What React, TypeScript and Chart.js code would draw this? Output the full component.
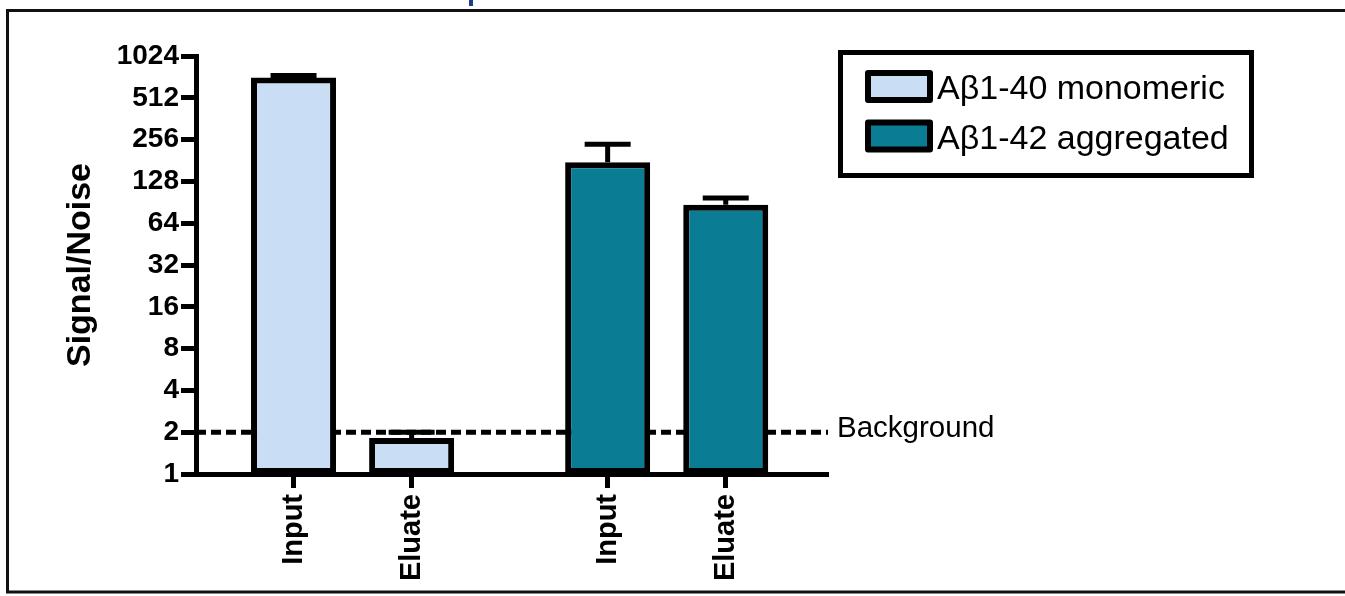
import React, { useEffect, useRef } from 'react';
import { Chart, registerables } from 'chart.js';

Chart.register(...registerables);

// ---- data ----
const conditions = ['Input', 'Eluate'];
const seriesNames = ['Aβ1-40 monomeric', 'Aβ1-42 aggregated'];
const monomericMeans = [716, 1.82];
const monomericErrors = [24, 0.18];
const aggregatedMeans = [176, 87];
const aggregatedErrors = [61, 10];
const yTickValues = [1, 2, 4, 8, 16, 32, 64, 128, 256, 512, 1024];
const backgroundLevel = 2;
const backgroundLabel = 'Background';
const yAxisTitle = 'Signal/Noise';
const seriesColors = ['#c9ddf5', '#0a7c94'];

// ---- layout constants ----
const W = 1345;
const H = 596;
const GROUP_GAP = 2.66; // distance between group starts, in bar slots
const FONT = "'Liberation Sans', Arial, Helvetica, sans-serif";

const means = [monomericMeans, aggregatedMeans];
const errors = [monomericErrors, aggregatedErrors];
const xPositions: number[] = [];
const xLabels: string[] = [];
means.forEach((_, g) => conditions.forEach((c, i) => { xPositions.push(g * GROUP_GAP + i); xLabels.push(c); }));

const errorBarPlugin = {
  id: 'errorBars',
  afterDatasetsDraw(chart: any) {
    const ctx = chart.ctx;
    const y = chart.scales.y;
    ctx.save();
    ctx.strokeStyle = '#000';
    ctx.lineWidth = 5;
    chart.data.datasets.forEach((ds: any, di: number) => {
      const meta = chart.getDatasetMeta(di);
      meta.data.forEach((el: any, i: number) => {
        const v = ds.data[i].y;
        const e = ds.errors[i];
        const top = y.getPixelForValue(v + e);
        ctx.beginPath();
        ctx.moveTo(el.x, el.y);
        ctx.lineTo(el.x, top);
        ctx.moveTo(el.x - 23, top);
        ctx.lineTo(el.x + 23, top);
        ctx.stroke();
      });
    });
    ctx.restore();
  },
};

const backgroundLinePlugin = {
  id: 'backgroundLine',
  beforeDatasetsDraw(chart: any) {
    const ctx = chart.ctx;
    const { left, right } = chart.chartArea;
    const yp = chart.scales.y.getPixelForValue(backgroundLevel);
    ctx.save();
    ctx.strokeStyle = '#000';
    ctx.lineWidth = 5;
    ctx.setLineDash([10, 5]);
    ctx.beginPath();
    ctx.moveTo(left, yp);
    ctx.lineTo(right, yp);
    ctx.stroke();
    ctx.restore();
  },
  afterDraw(chart: any) {
    const ctx = chart.ctx;
    const { right } = chart.chartArea;
    const yp = chart.scales.y.getPixelForValue(backgroundLevel);
    ctx.save();
    ctx.fillStyle = '#000';
    ctx.font = `29.5px ${FONT}`;
    ctx.textAlign = 'left';
    ctx.textBaseline = 'alphabetic';
    ctx.fillText(backgroundLabel, right + 9, yp + 5);
    ctx.restore();
  },
};

const legendPlugin = {
  id: 'boxLegend',
  afterDraw(chart: any) {
    const ctx = chart.ctx;
    ctx.save();
    ctx.strokeStyle = '#000';
    ctx.lineWidth = 5;
    ctx.strokeRect(840.5, 52.5, 411, 123);
    chart.data.datasets.forEach((ds: any, i: number) => {
      const cy = 86.5 + i * 49.5;
      ctx.fillStyle = ds.backgroundColor;
      ctx.lineWidth = 6;
      ctx.lineJoin = 'round';
      ctx.fillRect(868, cy - 13.5, 62, 27);
      ctx.strokeRect(868, cy - 13.5, 62, 27);
      ctx.fillStyle = '#000';
      ctx.font = `34px ${FONT}`;
      ctx.textBaseline = 'alphabetic';
      ctx.textAlign = 'left';
      ctx.fillText(ds.label, 937, cy + 12.5);
    });
    ctx.restore();
  },
};

const framePlugin = {
  id: 'frame',
  afterDraw(chart: any) {
    const ctx = chart.ctx;
    ctx.save();
    ctx.strokeStyle = '#111';
    ctx.lineWidth = 3;
    ctx.beginPath();
    ctx.moveTo(W, 10.5);
    ctx.lineTo(7.5, 10.5);
    ctx.lineTo(7.5, 592);
    ctx.lineTo(W, 592);
    ctx.stroke();
    ctx.fillStyle = '#1d3c8c';
    ctx.fillRect(469, 0, 4, 6);
    ctx.restore();
  },
};

export default function App() {
  const ref = useRef<HTMLCanvasElement>(null);
  useEffect(() => {
    if (!ref.current) return;
    const datasets = means.map((m, g) => ({
      label: seriesNames[g],
      data: m.map((v, i) => ({ x: g * GROUP_GAP + i, y: v })),
      errors: errors[g],
      backgroundColor: seriesColors[g],
      borderColor: '#000',
      borderWidth: 6,
      borderSkipped: false,
      grouped: false,
      categoryPercentage: 1,
      barPercentage: 0.72,
    }));
    const chart = new Chart(ref.current, {
      type: 'bar',
      data: { datasets } as any,
      options: {
        animation: false,
        responsive: false,
        maintainAspectRatio: false,
        layout: { padding: { left: 0, top: 56, right: W - 828, bottom: 0 } },
        plugins: { legend: { display: false }, tooltip: { enabled: false } },
        scales: {
          x: {
            type: 'linear',
            bounds: 'data',
            offset: false,
            min: -0.826,
            max: 4.526,
            afterBuildTicks: (s: any) => { s.ticks = xPositions.map((v) => ({ value: v })); },
            afterFit: (s: any) => { s.height = H - 474; },
            grid: { display: true, offset: false, drawOnChartArea: false, drawTicks: true, tickLength: 14, tickWidth: 5, tickColor: '#000' },
            border: { display: true, width: 5, color: '#000' },
            ticks: {
              autoSkip: false,
              minRotation: 90,
              maxRotation: 90,
              padding: 6,
              color: '#000',
              font: { family: FONT, size: 29, weight: 'bold' },
              callback: (_v: any, i: number) => xLabels[i],
            },
          },
          y: {
            type: 'logarithmic',
            min: 1,
            max: 1024,
            afterBuildTicks: (s: any) => { s.ticks = yTickValues.map((v) => ({ value: v })); },
            afterFit: (s: any) => { s.width = 196; },
            grid: { display: true, drawOnChartArea: false, drawTicks: true, tickLength: 15, tickWidth: 5, tickColor: '#000' },
            border: { display: true, width: 5, color: '#000' },
            ticks: {
              padding: 2,
              color: '#000',
              font: { family: FONT, size: 28, weight: 'bold' },
              callback: (v: any) => String(v),
            },
            title: {
              display: true,
              text: yAxisTitle,
              color: '#000',
              font: { family: FONT, size: 34, weight: 'bold' },
              padding: { top: 60, bottom: 0 },
            },
          },
        },
      } as any,
      plugins: [backgroundLinePlugin, errorBarPlugin, legendPlugin, framePlugin],
    });
    return () => chart.destroy();
  }, []);
  return (
    <div style={{ position: 'absolute', left: 0, top: 0, width: W, height: H, background: '#fff' }}>
      <canvas ref={ref} width={W} height={H} style={{ display: 'block', width: W, height: H }} />
    </div>
  );
}
